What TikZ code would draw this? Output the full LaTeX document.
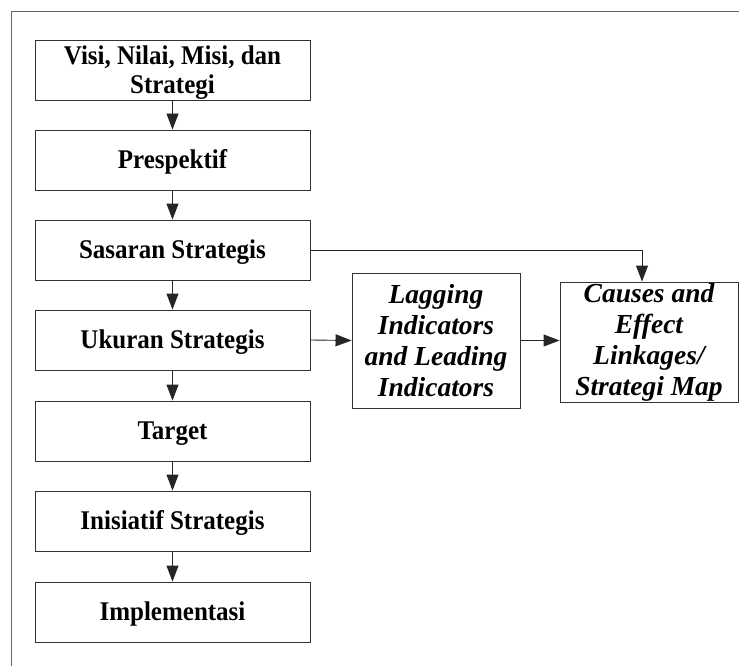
\documentclass[tikz,border=0pt]{standalone}
\usepackage{graphicx}
\usepackage{fontspec}
\setmainfont{Liberation Serif}
\usetikzlibrary{arrows.meta}
\newcommand{\btxt}[1]{\raisebox{-9.7pt}[0pt][0pt]{\scalebox{1}[1.08]{\begin{tabular}{@{}c@{}}#1\end{tabular}}}}
\begin{document}
\begin{tikzpicture}[x=1pt,y=-1pt,
 box/.style={draw=black!80, line width=0.9pt, minimum width=275pt, minimum height=60pt, align=center, font=\fontsize{25}{27}\selectfont\bfseries, inner sep=0pt},
 ibox/.style={draw=black!80, line width=0.9pt, align=center, font=\fontsize{27.5}{31}\selectfont\bfseries\itshape, inner sep=0pt},
 arr/.style={draw=black!85, line width=0.9pt, -{Triangle[length=16pt,width=12pt]}}]
\useasboundingbox (0,0) rectangle (739,666);
\draw[black!60, line width=0.8pt] (739,11) -- (11,11) -- (11,666);
\node[box] (b1) at (172.5,70) {\btxt{Visi, Nilai, Misi, dan\\Strategi}};
\node[box] (b2) at (172.5,160) {\btxt{Prespektif}};
\node[box] (b3) at (172.5,250) {\btxt{Sasaran Strategis}};
\node[box] (b4) at (172.5,340) {\btxt{Ukuran Strategis}};
\node[box] (b5) at (172.5,431) {\btxt{Target}};
\node[box] (b6) at (172.5,521) {\btxt{Inisiatif Strategis}};
\node[box] (b7) at (172.5,612) {\btxt{Implementasi}};
\node[ibox, minimum width=168pt, minimum height=135pt] (lag) at (436,340.5) {Lagging\\Indicators\\and Leading\\Indicators};
\node[ibox, minimum width=178pt, minimum height=120pt] (cau) at (649,342) {Causes and\\Effect\\Linkages/\\Strategi Map};
\draw[arr] (b1) -- (b2);
\draw[arr] (b2) -- (b3);
\draw[arr] (b3) -- (b4);
\draw[arr] (b4) -- (b5);
\draw[arr] (b5) -- (b6);
\draw[arr] (b6) -- (b7);
\draw[arr] (b4.east) -- (lag.west);
\draw[arr] (lag.east) -- (lag.east -| cau.west);
\coordinate (cn) at ([xshift=-7pt]cau.north);
\draw[arr] (b3.east) -| (cn);
\end{tikzpicture}
\end{document}
